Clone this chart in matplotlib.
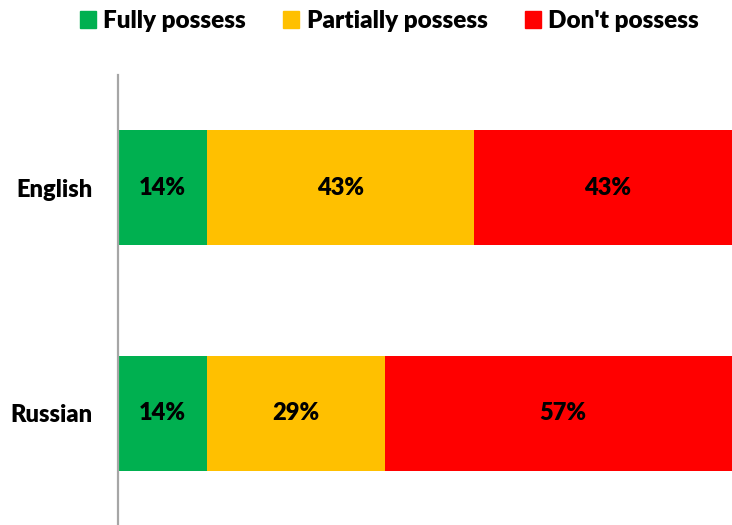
import matplotlib.pyplot as plt
from matplotlib.patches import Patch

plt.rcParams["font.family"] = ["Lato", "DejaVu Sans"]
plt.rcParams["font.weight"] = "heavy"

languages = ["English", "Russian"]
series = ["Fully possess", "Partially possess", "Don't possess"]
fully = [14.3, 14.3]
partially = [42.9, 28.6]
dont = [42.8, 57.1]
labels = [["14%", "14%"], ["43%", "29%"], ["43%", "57%"]]
colors = ["#00B050", "#FFC000", "#FF0000"]

fig = plt.figure(figsize=(7.32, 5.25), dpi=100)
ax = fig.add_axes([118 / 732, -1.5 / 525, 623 / 732, 452 / 525])

left = [0, 0]
for vals, lab, col in zip([fully, partially, dont], labels, colors):
    bars = ax.barh(languages, vals, left=left, height=0.513, color=col)
    ax.bar_label(bars, labels=lab, label_type="center", fontsize=17,
                 fontweight="heavy", color="black")
    left = [a + b for a, b in zip(left, vals)]

ax.set_xlim(0, 100)
ax.set_ylim(1.5, -0.5)
ax.set_xticks([])
ax.tick_params(axis="y", length=0, pad=18.5, labelsize=17)
for s in ["top", "right", "bottom"]:
    ax.spines[s].set_visible(False)
ax.spines["left"].set_color("#A6A6A6")
ax.spines["left"].set_linewidth(1.6)

handles = [Patch(color=c, label=s) for c, s in zip(colors, series)]
fig.legend(handles=handles, loc="center", bbox_to_anchor=(0.532, 0.96),
           ncol=3, frameon=False, fontsize=17.5, handlelength=0.66,
           handleheight=0.66, handletextpad=0.29, columnspacing=1.56,
           borderpad=0)

fig.savefig("out.png", dpi=100)
